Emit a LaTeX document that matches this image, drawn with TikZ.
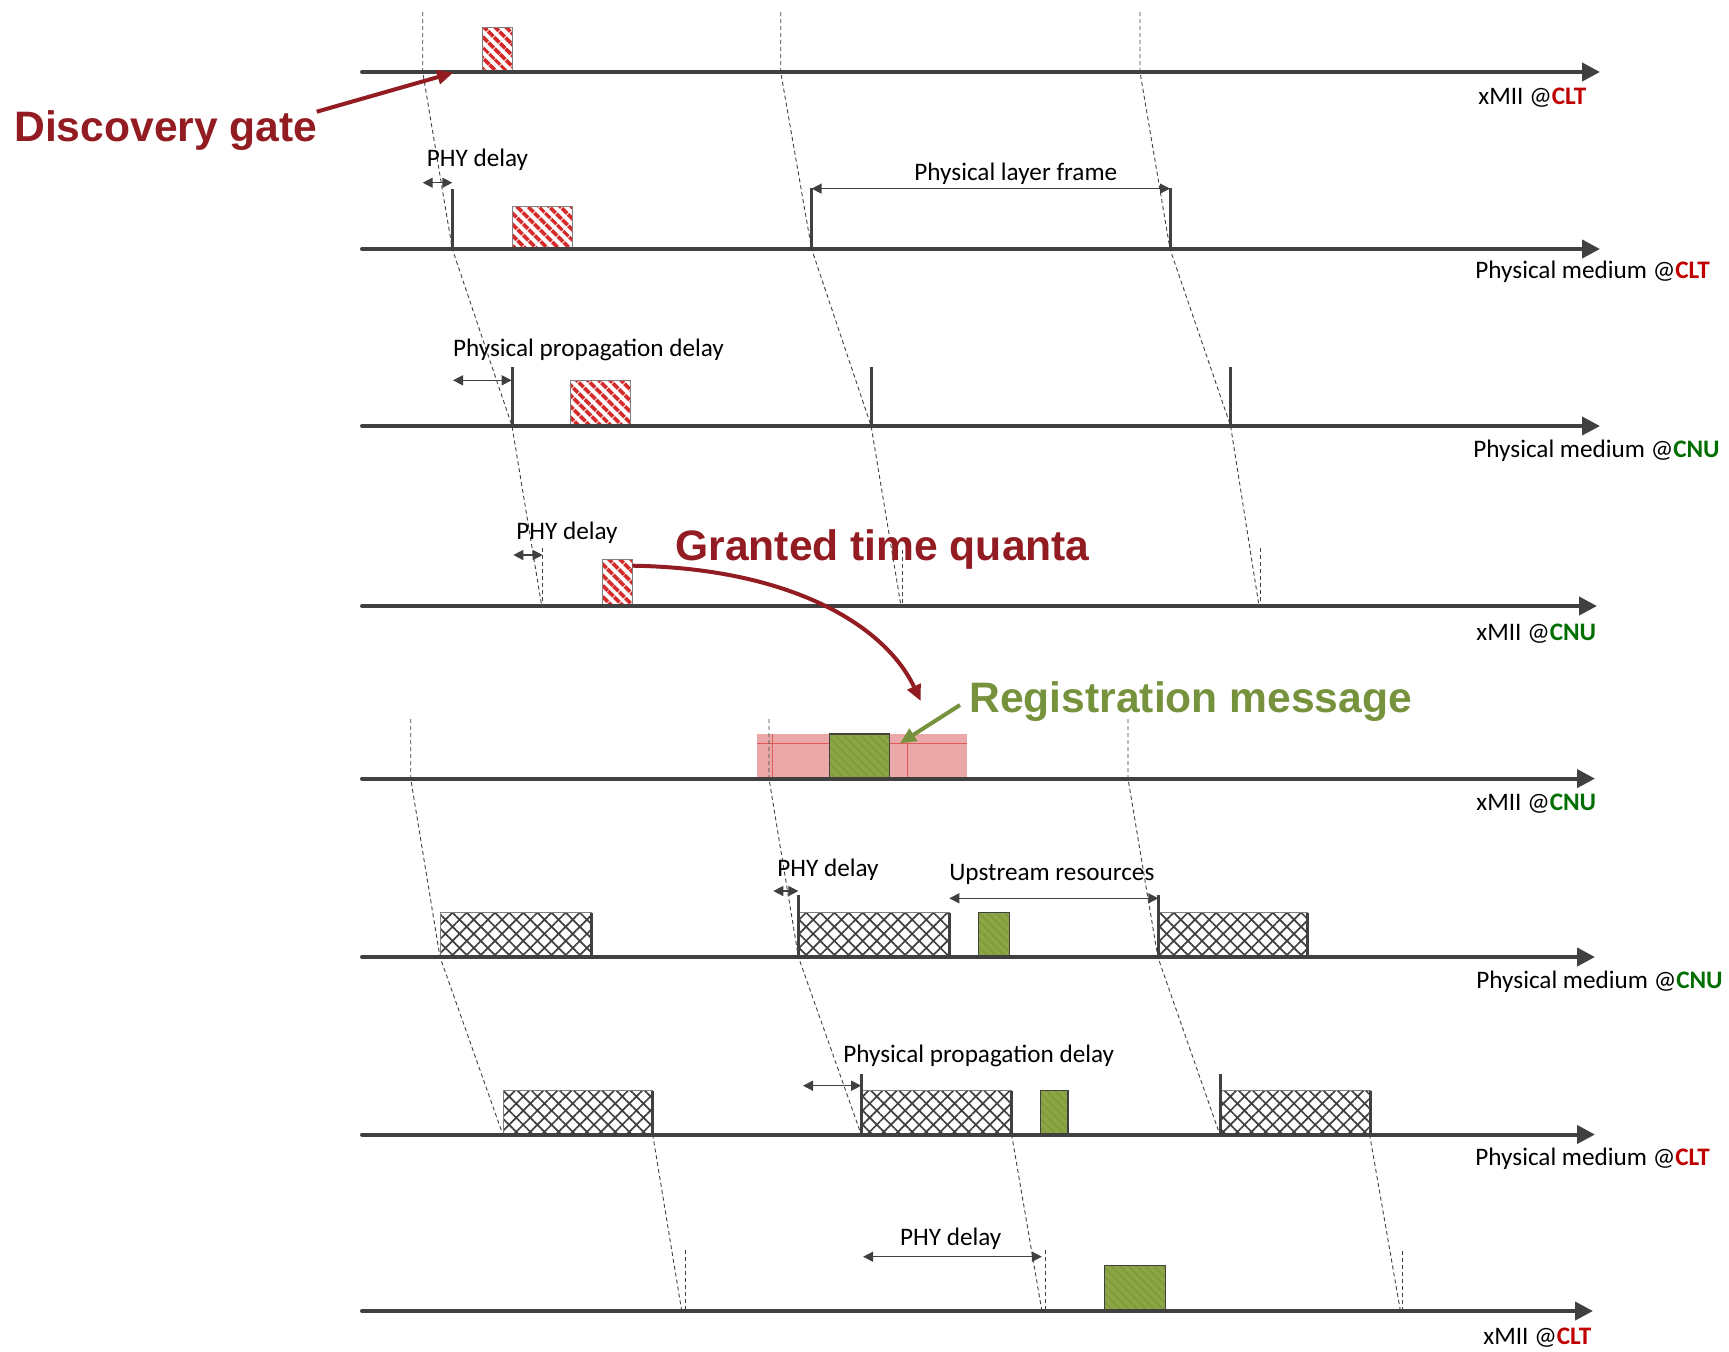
\documentclass[tikz,border=0pt]{standalone}
\usepackage{fontspec}
\setmainfont{Carlito}
\newfontfamily\arialfont{Liberation Sans}
\usetikzlibrary{arrows.meta,patterns.meta}
\definecolor{axisgray}{HTML}{404040}
\definecolor{cltred}{HTML}{C00000}
\definecolor{cnugreen}{HTML}{006E00}
\definecolor{bigred}{HTML}{921C21}
\definecolor{biggreen}{HTML}{76923C}
\definecolor{stripered}{HTML}{D42A2A}
\definecolor{olivefill}{HTML}{8CA545}
\definecolor{olivedark}{HTML}{7E983C}
\definecolor{pinkfill}{HTML}{EAA8A8}
\definecolor{pinkline}{HTML}{E05A5A}
\tikzset{
  axisline/.style={line width=2pt, draw=axisgray, line cap=round, -{Triangle[length=9pt,width=9pt]}},
  tickline/.style={line width=1.5pt, draw=axisgray},
  prop/.style={draw=axisgray, line width=0.45pt, dash pattern=on 2pt off 1.5pt, line join=round},
  dimline/.style={draw=axisgray, line width=0.7pt, {Triangle[length=5pt,width=5pt]}-{Triangle[length=5pt,width=5pt]}},
  redbox/.style={draw=gray, line width=0.5pt, pattern={Lines[angle=-45,distance=4pt,line width=2pt]}, pattern color=stripered},
  greenbox/.style={draw=axisgray, line width=0.6pt, preaction={fill=olivefill}, pattern={Lines[angle=-45,distance=3pt,line width=0.7pt]}, pattern color=olivedark},
  crossbox/.style={draw=gray, line width=0.5pt, pattern={Hatch[angle=45,distance=5pt,line width=0.85pt]}, pattern color=axisgray},
  lbl/.style={inner sep=0pt, font=\fontsize{12.6}{14}\selectfont, text=black},
  biglbl/.style={inner sep=0pt, font=\arialfont\bfseries\fontsize{21.3}{24}\selectfont},
  bigarrow/.style={line width=2pt, -{Triangle[length=8pt,width=7pt]}},
}
\newcommand{\clt}{{\bfseries\color{cltred}CLT}}
\newcommand{\cnu}{{\bfseries\color{cnugreen}CNU}}
\begin{document}
\begin{tikzpicture}[x=0.5pt,y=-0.5pt]
\useasboundingbox (0,0) rectangle (1729,1351);

% ---- pink granted window (row 5)
\fill[pinkfill] (757.3,734) rectangle (966.7,778.6);
\draw[pinkline, line width=0.4pt] (757.3,743.3) -- (966.7,743.3)
  (772.3,734) -- (772.3,778.6) (907.3,734) -- (907.3,778.6);

% ---- propagation (dashed) lines, top half
\draw[prop] (422.7,12) -- (422.7,72) -- (452.3,249) -- (512,426) -- (541.7,606);
\draw[prop] (542.7,548) -- (542.7,606);
\draw[prop] (780.7,12) -- (780.7,72) -- (811.6,249) -- (871.1,426) -- (901,606);
\draw[prop] (902.5,550) -- (902.5,606);
\draw[prop] (1140,12) -- (1140,72) -- (1170,249) -- (1230.6,426) -- (1259,606);
\draw[prop] (1260.5,548) -- (1260.5,606);
% ---- bottom half
\draw[prop] (410.7,719) -- (410.7,778.6) -- (440,957) -- (502.8,1134.5);
\draw[prop] (769,719) -- (769,778.6) -- (798.4,957) -- (861.2,1134.5);
\draw[prop] (1128,719) -- (1128,778.6) -- (1157.8,957) -- (1219.8,1134.5);
\draw[prop] (652.7,1134.5) -- (681.7,1311);
\draw[prop] (685.7,1250) -- (685.7,1311);
\draw[prop] (1011.6,1134.5) -- (1041.9,1311);
\draw[prop] (1045,1250) -- (1045,1311);
\draw[prop] (1369.6,1134.5) -- (1400.4,1311);
\draw[prop] (1402.6,1251) -- (1402.6,1311);

% ---- red discovery gate boxes
\path[redbox] (482,27.6) rectangle (512.7,72);
\path[redbox] (512.3,206) rectangle (572.3,249);
\path[redbox] (570.7,380.7) rectangle (630,426);
\path[redbox] (602,559.3) rectangle (632.3,606);

% ---- green registration boxes
\path[greenbox] (829.3,734) rectangle (889.7,778.6);
\path[greenbox] (978.7,912.3) rectangle (1009.3,957);
\path[greenbox] (1040.3,1090.5) rectangle (1067.9,1134.5);
\path[greenbox] (1104.2,1265.7) rectangle (1165.5,1311);

% ---- cross-hatched upstream bursts
\path[crossbox] (440,912.5) rectangle (591,957);
\path[crossbox] (798.4,912.5) rectangle (949.3,957);
\path[crossbox] (1158.3,912.5) rectangle (1307.8,957);
\path[crossbox] (503,1090.5) rectangle (652.7,1134.5);
\path[crossbox] (861.2,1090.5) rectangle (1011.6,1134.5);
\path[crossbox] (1220,1090.5) rectangle (1370,1134.5);

% ---- ticks
\draw[tickline] (452.3,189) -- (452.3,249) (811.6,188) -- (811.6,249) (1170,188) -- (1170,249);
\draw[tickline] (512,367) -- (512,426) (871.1,367) -- (871.1,426) (1230.6,367) -- (1230.6,426);
\draw[tickline] (591,912.5) -- (591,957) (798.4,895) -- (798.4,957) (949.3,912.5) -- (949.3,957)
  (1158.3,895) -- (1158.3,957) (1307.8,912.5) -- (1307.8,957);
\draw[tickline] (652.7,1090.5) -- (652.7,1134.5) (861.2,1074) -- (861.2,1134.5) (1011.6,1090.5) -- (1011.6,1134.5)
  (1220,1074) -- (1220,1134.5) (1370,1090.5) -- (1370,1134.5);

% ---- time axes
\foreach \yy/\ee [count=\i] in {72/1600,249/1600,426/1600,606/1597,778.6/1595,957/1595,1134.5/1595,1311/1593}{
  \coordinate (ax\i s) at (362,\yy);
  \coordinate (ax\i e) at (\ee,\yy);
  \draw[axisline] (ax\i s) -- (ax\i e);
}

% ---- axis labels
\node[lbl, anchor=base west] (l1) at (1478,104.3) {xMII @\clt};
\node[lbl, anchor=base west] (l2) at (1475,278.3) {Physical medium @\clt};
\node[lbl, anchor=base west] (l3) at (1473,457.3) {Physical medium @\cnu};
\node[lbl, anchor=base west] (l4) at (1476,640.7) {xMII @\cnu};
\node[lbl, anchor=base west] (l5) at (1476,810.7) {xMII @\cnu};
\node[lbl, anchor=base west] (l6) at (1476,988.3) {Physical medium @\cnu};
\node[lbl, anchor=base west] (l7) at (1475,1165) {Physical medium @\clt};
\node[lbl, anchor=base west] (l8) at (1483,1344.3) {xMII @\clt};

% ---- dimension arrows
\coordinate (d1a) at (422.7,182.7); \coordinate (d1b) at (452.3,182.7);
\coordinate (d2a) at (811.6,188.6); \coordinate (d2b) at (1170,188.6);
\coordinate (d3a) at (453,380.3);   \coordinate (d3b) at (511.7,380.3);
\coordinate (d4a) at (513.3,555);   \coordinate (d4b) at (542.7,555);
\coordinate (d5a) at (773.3,891);   \coordinate (d5b) at (798.4,891);
\coordinate (d6a) at (949.3,898.3); \coordinate (d6b) at (1158.3,898.3);
\coordinate (d7a) at (803,1085.7);  \coordinate (d7b) at (861.2,1085.7);
\coordinate (d8a) at (863.1,1256.7); \coordinate (d8b) at (1041.9,1256.7);
\foreach \k in {1,...,8}{ \draw[dimline] (d\k a) -- (d\k b); }

% ---- dimension labels
\node[lbl, anchor=base] (t1) at (477.5,166.7) {PHY delay};
\node[lbl, anchor=base] (t2) at (1015.8,180) {Physical layer frame};
\node[lbl, anchor=base] (t3) at (588.5,356) {Physical propagation delay};
\node[lbl, anchor=base] (t4) at (567,539) {PHY delay};
\node[lbl, anchor=base] (t5) at (828,876.7) {PHY delay};
\node[lbl, anchor=base] (t6) at (1051.8,880) {Upstream resources};
\node[lbl, anchor=base] (t7) at (978.7,1062.5) {Physical propagation delay};
\node[lbl, anchor=base] (t8) at (950.7,1245) {PHY delay};

% ---- big annotations
\node[biglbl, text=bigred, anchor=base west] (dg) at (14,141.7) {Discovery gate};
\node[biglbl, text=bigred, anchor=base west] (gq) at (675,560) {Granted time quanta};
\node[biglbl, text=biggreen, anchor=base west] (rm) at (969,712) {Registration message};

\coordinate (dgs) at (316.7,111.7); \coordinate (dgt) at (453.3,72.7);
\draw[bigarrow, bigred] (dgs) -- (dgt);
\coordinate (gqs) at (632.3,565.7); \coordinate (gqt) at (920.7,701);
\draw[bigarrow, bigred] (gqs) .. controls (790,568) and (885,625) .. (gqt);
\coordinate (rms) at (960,705); \coordinate (rmt) at (900,743.3);
\draw[bigarrow, biggreen] (rms) -- (rmt);
\end{tikzpicture}
\end{document}
